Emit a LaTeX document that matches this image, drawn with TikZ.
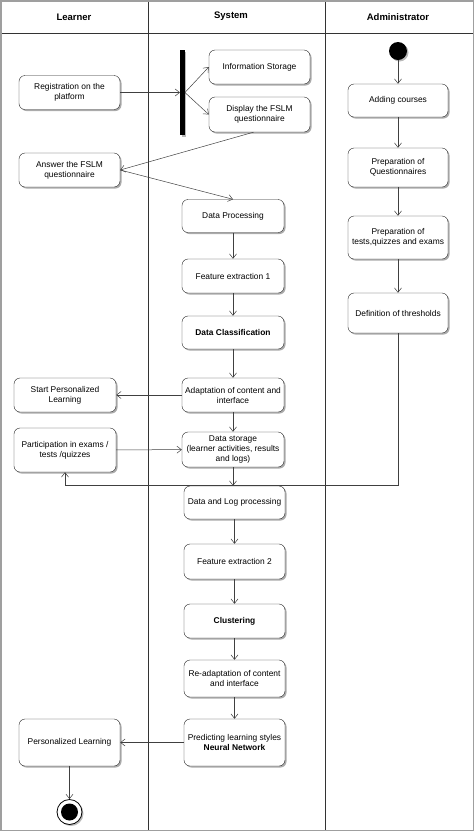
\documentclass[tikz,border=0pt]{standalone}
\usepackage{fontspec}
\setmainfont{Liberation Sans}
\usepackage{tikz}
\usetikzlibrary{arrows.meta}
\usetikzlibrary{shadows}

\tikzset{
  act/.style={draw=black!85, fill=white, rounded corners=6pt, minimum width=101pt, minimum height=34pt,
    inner sep=1pt, align=center, font=\fontsize{8.4}{10}\selectfont,
    drop shadow={shadow xshift=1.5pt, shadow yshift=-1.5pt, fill=black!55, opacity=0.6}},
  flow/.style={draw=black!75, line width=0.5pt, ->, >={Straight Barb[length=4.5pt, width=7pt]}},
  lane/.style={draw=black!80, line width=0.6pt},
  lanehead/.style={font=\fontsize{9.5}{11}\selectfont\bfseries},
}

\begin{document}
\begin{tikzpicture}[x=1pt, y=-1pt]
    \useasboundingbox (0,0) rectangle (474,831);
    \draw[lane] (148,0) -- (148,831);
    \draw[lane] (325,0) -- (325,831);
    \draw[black!80, line width=0.8pt] (0,33) -- (474,33);
    \draw[gray!75, line width=3pt] (0,0) rectangle (474,831);

    \node[lanehead] (hlearner) at (74,17) {Learner};
    \node[lanehead] (hsystem) at (231,16) {System};
    \node[lanehead] (hadmin) at (398,17) {Administrator};

    \node[act] (reg) at (69.5,92.5) {Registration on the\\platform};
    \node[fill=black, minimum width=4.5pt, minimum height=85pt, inner sep=0pt,
      drop shadow={shadow xshift=1.5pt, shadow yshift=-1.5pt, fill=black!55, opacity=0.5}] (fork) at (182.5,92.5) {};
    \node[act] (info) at (259.5,67) {Information Storage};
    \node[act, minimum height=35pt] (disp) at (259.5,114.5) {Display the FSLM\\questionnaire};
    \node[act] (answer) at (69.5,170) {Answer the FSLM\\questionnaire};

    \node[act, minimum width=102pt, minimum height=33pt] (dproc) at (233,216) {Data Processing};
    \node[act, minimum width=102pt] (fe1) at (233,276) {Feature extraction 1};
    \node[act, minimum width=102pt, minimum height=33pt] (dclass) at (233,332.5) {\bfseries Data Classification};
    \node[act, minimum width=102pt] (adapt) at (233,395) {Adaptation of content and\\interface};
    \node[act, minimum width=102pt, minimum height=35pt] (dstore) at (233,449.5) {Data storage\\(learner activities, results\\and logs)};
    \node[act, minimum width=102pt] (startp) at (65,395) {Start Personalized\\Learning};
    \node[act, minimum width=102pt, minimum height=44pt] (part) at (65,450) {Participation in exams /\\tests /quizzes};

    \node[act, minimum height=33pt] (dlog) at (234.5,502.5) {Data and Log processing};
    \node[act, minimum height=35pt] (fe2) at (234.5,561.5) {Feature extraction 2};
    \node[act] (clust) at (234.5,621) {\bfseries Clustering};
    \node[act, minimum height=37pt] (readapt) at (234.5,678.5) {Re-adaptation of content\\and interface};
    \node[act, minimum height=47pt] (predict) at (234.5,742.5) {Predicting learning styles\\\bfseries Neural Network};
    \node[act, minimum height=47pt] (perslearn) at (69.5,742.5) {Personalized Learning};

    \node[circle, fill=black, minimum size=18pt, inner sep=0pt,
      drop shadow={shadow xshift=1.5pt, shadow yshift=-1.5pt, fill=black!55, opacity=0.5}] (init) at (398,51) {};
    \node[act, minimum width=100pt, minimum height=33pt] (adding) at (398,100.5) {Adding courses};
    \node[act, minimum width=100pt, minimum height=39pt] (prepq) at (398,167.5) {Preparation of\\Questionnaires};
    \node[act, minimum width=100pt, minimum height=43pt] (preptests) at (398,237.5) {Preparation of\\tests,quizzes and exams};
    \node[act, minimum width=100pt, minimum height=40pt] (thresh) at (398,313) {Definition of thresholds};

    \node[circle, draw=black, line width=0.8pt, fill=white, minimum size=25pt, inner sep=0pt,
      drop shadow={shadow xshift=1.5pt, shadow yshift=-1.5pt, fill=black!55, opacity=0.5}] (finish) at (69.5,812) {};
    \node[circle, fill=black, minimum size=17pt, inner sep=0pt] (finishdot) at (finish) {};
    \coordinate (back) at (65,485);

    \draw[flow] (reg) -- (fork);
    \draw[flow] (fork.east) -- (info.west);
    \draw[flow] (fork.east) -- (disp.west);
    \draw[flow] ([xshift=-6pt]disp.south) -- (answer.east);
    \draw[flow] (answer.east) -- (dproc.north);
    \draw[flow] (dproc) -- (fe1);
    \draw[flow] (fe1) -- (dclass);
    \draw[flow] (dclass) -- (adapt);
    \draw[flow] (adapt) -- (dstore);
    \draw[flow] (adapt) -- (startp);
    \draw[flow] (part) -- (dstore);
    \draw[flow] (dstore.south) -- (dstore.south |- dlog.north);
    \draw[flow] (dlog) -- (fe2);
    \draw[flow] (fe2) -- (clust);
    \draw[flow] (clust) -- (readapt);
    \draw[flow] (readapt) -- (predict);
    \draw[flow] (predict) -- (perslearn);
    \draw[flow] (perslearn) -- (finish);
    \draw[flow] (init) -- (adding);
    \draw[flow] (adding) -- (prepq);
    \draw[flow] (prepq) -- (preptests);
    \draw[flow] (preptests) -- (thresh);
    \draw[flow] (thresh.south) |- (back) -- (part.south);
\end{tikzpicture}
\end{document}
